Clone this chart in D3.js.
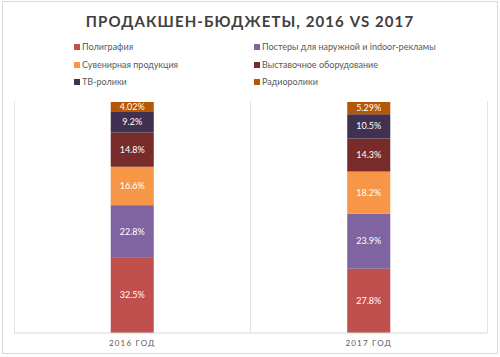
<!DOCTYPE html>
<html><head><meta charset="utf-8">
<script src="https://cdn.jsdelivr.net/npm/d3@7"></script>
<style>body{margin:0;background:#fff;}svg{display:block;}</style>
</head><body>
<script>
const categories = ["2016 ГОД", "2017 ГОД"];
const seriesNames = ["Полиграфия", "Постеры для наружной и indoor-рекламы", "Сувенирная продукция", "Выставочное оборудование", "ТВ-ролики", "Радиоролики"];
const values2016 = [32.5, 22.8, 16.6, 14.8, 9.2, 4.02];
const values2017 = [27.8, 23.9, 18.2, 14.3, 10.5, 5.29];
const labels2016 = ["32.5%", "22.8%", "16.6%", "14.8%", "9.2%", "4.02%"];
const labels2017 = ["27.8%", "23.9%", "18.2%", "14.3%", "10.5%", "5.29%"];
const colors = ["#c0504d", "#8064a2", "#f79646", "#772c2a", "#403151", "#b65708"];
const title = "ПРОДАКШЕН-БЮДЖЕТЫ, 2016 VS 2017";

const W = 500, H = 357;
const svg = d3.select("body").append("svg").attr("width", W).attr("height", H);
const font = "Lato, 'Open Sans', sans-serif";

// chart border
svg.append("rect").attr("x", 2.5).attr("y", 1.5).attr("width", 495).attr("height", 352)
  .attr("fill", "#fff").attr("stroke", "#d9d9d9");

svg.append("text").attr("x", 250).attr("y", 27).attr("text-anchor", "middle")
  .attr("font-family", font).attr("font-weight", "bold").attr("font-size", 15)
  .attr("letter-spacing", 1.1).attr("fill", "#404040").text(title);

// legend
const legCols = [74, 254], legRows = [47, 65, 82];
seriesNames.forEach((n, i) => {
  const x = legCols[i % 2], y = legRows[Math.floor(i / 2)];
  svg.append("rect").attr("x", x).attr("y", y - 3).attr("width", 6).attr("height", 6).attr("fill", colors[i]);
  svg.append("text").attr("x", x + 8).attr("y", y + 3.2).attr("font-family", font)
    .attr("font-size", 9).attr("fill", "#595959").text(n);
});

const plotL = 14, plotR = 487, plotT = 102, plotB = 333;
const x = d3.scaleBand().domain(categories).range([plotL, plotR]).paddingInner(0.818).paddingOuter(0.409);
const y = d3.scaleLinear().domain([0, 100]).range([plotB, plotT]);

// vertical gridlines (category boundaries)
const step = x.step();
[plotL, plotL + step, plotR].forEach(gx => {
  svg.append("line").attr("x1", gx).attr("x2", gx).attr("y1", plotT - 1).attr("y2", plotB)
    .attr("stroke", "#e3e3e3").attr("stroke-width", 1).attr("shape-rendering", "crispEdges");
});

const table = categories.map((c, ci) => {
  const vals = ci === 0 ? values2016 : values2017;
  const labs = ci === 0 ? labels2016 : labels2017;
  const total = d3.sum(vals);
  let acc = 0;
  return vals.map((v, i) => {
    const s = { cat: c, i, y0: acc / total * 100, y1: (acc + v) / total * 100, label: labs[i] };
    acc += v;
    return s;
  });
}).flat();

svg.selectAll("rect.seg").data(table).join("rect").attr("class", "seg")
  .attr("x", d => x(d.cat)).attr("width", x.bandwidth())
  .attr("y", d => y(d.y1)).attr("height", d => y(d.y0) - y(d.y1))
  .attr("fill", d => colors[d.i]);

svg.selectAll("text.lab").data(table).join("text").attr("class", "lab")
  .attr("x", d => x(d.cat) + x.bandwidth() / 2).attr("y", d => (y(d.y0) + y(d.y1)) / 2 + 3)
  .attr("text-anchor", "middle").attr("font-family", font).attr("font-size", 9)
  .attr("fill", "#fff").text(d => d.label);

// category axis
const ax = svg.append("g").attr("transform", `translate(0,${plotB})`)
  .call(d3.axisBottom(x).tickSize(0).tickPadding(7));
ax.select(".domain").attr("stroke", "#d9d9d9").attr("d", `M${plotL},0H${plotR}`);
ax.selectAll("text").attr("font-family", font).attr("font-size", 8).attr("letter-spacing", 1.2).attr("fill", "#595959");
</script>
</body></html>
